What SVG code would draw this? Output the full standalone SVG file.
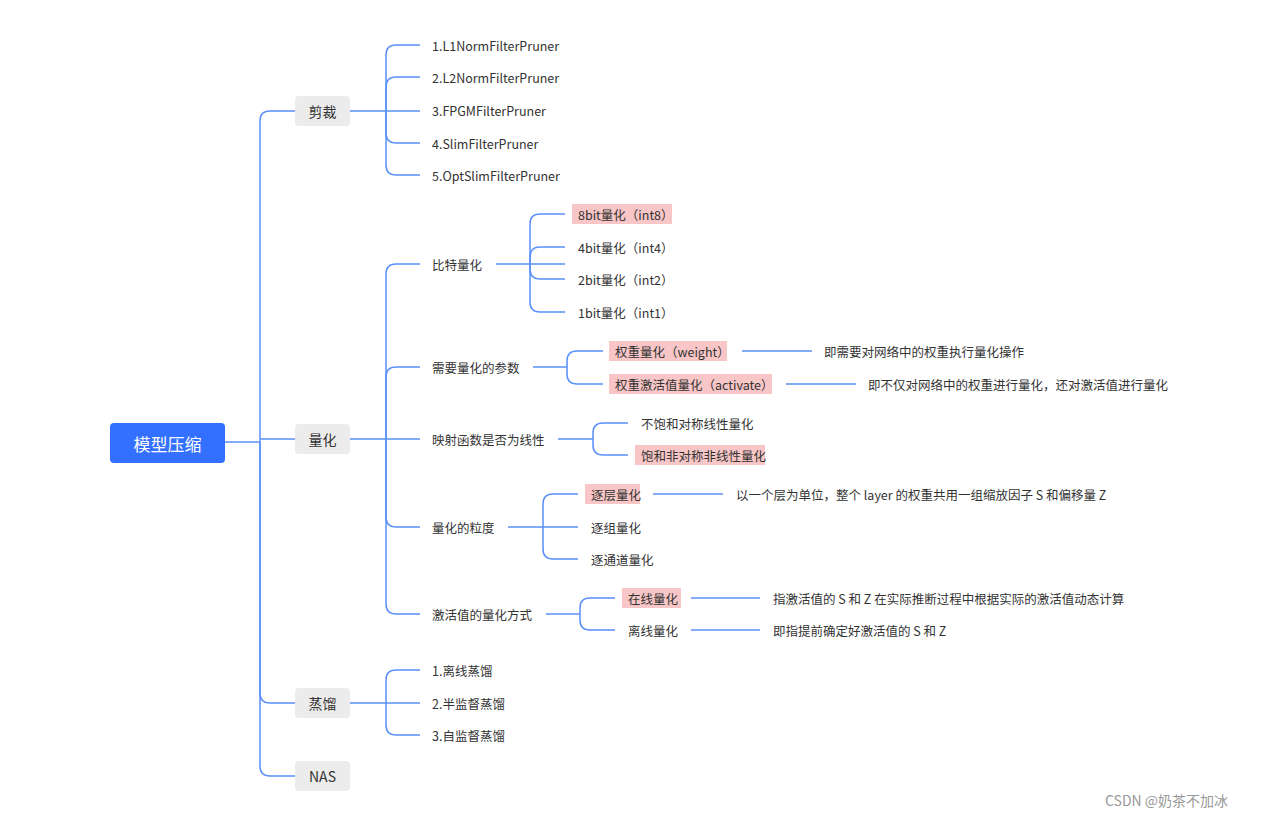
<svg xmlns="http://www.w3.org/2000/svg" width="1280" height="818" viewBox="0 0 1280 818">
<style>
.c{fill:none;stroke:#5b8ff9;stroke-width:1.5}
text{font-family:"Noto Sans CJK SC","Noto Sans",sans-serif;font-size:12.5px;fill:#333;dominant-baseline:central}
.l1{fill:#ececec}
.l1t{font-size:14px;text-anchor:middle}
.hl{fill:#f8c6c6}
</style>
<rect width="1280" height="818" fill="#fff"/>
<g id="connectors">
<path class="c" d="M225 442H260"/>
<path class="c" d="M260 442V121Q260 111 270 111H295"/>
<path class="c" d="M260 439H295"/>
<path class="c" d="M260 442V693Q260 703 270 703H295"/>
<path class="c" d="M260 442V766Q260 776 270 776H295"/>
<path class="c" d="M350 111H420"/>
<path class="c" d="M386 111V55Q386 45 396 45H420"/>
<path class="c" d="M386 111V87Q386 77 396 77H420"/>
<path class="c" d="M386 111V133Q386 143 396 143H420"/>
<path class="c" d="M386 111V165Q386 175 396 175H420"/>
<path class="c" d="M350 439H420"/>
<path class="c" d="M386 439V274Q386 264 396 264H420"/>
<path class="c" d="M386 439V377Q386 367 396 367H420"/>
<path class="c" d="M386 439V517Q386 527 396 527H420"/>
<path class="c" d="M386 439V604Q386 614 396 614H420"/>
<path class="c" d="M496 264H565"/>
<path class="c" d="M530 264V224Q530 214 540 214H565"/>
<path class="c" d="M530 264V257Q530 247 540 247H565"/>
<path class="c" d="M530 264V269Q530 279 540 279H565"/>
<path class="c" d="M530 264V302Q530 312 540 312H565"/>
<path class="c" d="M533 367H567"/>
<path class="c" d="M567 367V361Q567 351 577 351H603"/>
<path class="c" d="M567 367V374Q567 384 577 384H603"/>
<path class="c" d="M742 351H812"/>
<path class="c" d="M786 384H856"/>
<path class="c" d="M558 439H593"/>
<path class="c" d="M593 439V433Q593 423 603 423H628"/>
<path class="c" d="M593 439V445Q593 455 603 455H628"/>
<path class="c" d="M508 527H543"/>
<path class="c" d="M543 527V504Q543 494 553 494H578"/>
<path class="c" d="M543 527H578"/>
<path class="c" d="M543 527V549Q543 559 553 559H578"/>
<path class="c" d="M653 494H723"/>
<path class="c" d="M546 614H580"/>
<path class="c" d="M580 614V608Q580 598 590 598H615"/>
<path class="c" d="M580 614V620Q580 630 590 630H615"/>
<path class="c" d="M691 598H760"/>
<path class="c" d="M691 630H760"/>
<path class="c" d="M350 703H420"/>
<path class="c" d="M386 703V680Q386 670 396 670H420"/>
<path class="c" d="M386 703V725Q386 735 396 735H420"/>
</g>
<g id="root"><rect x="110" y="423" width="115" height="40" rx="4" fill="#3370ff"/><text x="167.5" y="443" style="fill:#fff;font-size:17px;text-anchor:middle">模型压缩</text></g>
<g id="n-jiancai"><rect class="l1" x="295" y="96" width="55" height="30" rx="4"/><text class="l1t" x="322.5" y="111">剪裁</text></g>
<g id="n-lianghua"><rect class="l1" x="295" y="424" width="55" height="30" rx="4"/><text class="l1t" x="322.5" y="439">量化</text></g>
<g id="n-zhengliu"><rect class="l1" x="295" y="688" width="55" height="30" rx="4"/><text class="l1t" x="322.5" y="703">蒸馏</text></g>
<g id="n-nas"><rect class="l1" x="295" y="761" width="55" height="30" rx="4"/><text class="l1t" x="322.5" y="776">NAS</text></g>
<g id="p1"><text x="432" y="45">1.L1NormFilterPruner</text></g>
<g id="p2"><text x="432" y="77">2.L2NormFilterPruner</text></g>
<g id="p3"><text x="432" y="110">3.FPGMFilterPruner</text></g>
<g id="p4"><text x="432" y="143">4.SlimFilterPruner</text></g>
<g id="p5"><text x="432" y="175">5.OptSlimFilterPruner</text></g>
<g id="q1"><text x="432" y="264">比特量化</text></g>
<g id="b8"><rect class="hl" x="572" y="204" width="100" height="20"/><text x="578" y="214">8bit量化（int8）</text></g>
<g id="b4"><text x="578" y="247">4bit量化（int4）</text></g>
<g id="b2"><text x="578" y="279">2bit量化（int2）</text></g>
<g id="b1"><text x="578" y="312">1bit量化（int1）</text></g>
<g id="q2"><text x="432" y="367">需要量化的参数</text></g>
<g id="w"><rect class="hl" x="609" y="341" width="118" height="20"/><text x="615" y="351">权重量化（weight）</text></g>
<g id="a"><rect class="hl" x="609" y="374" width="163" height="20"/><text x="615" y="384">权重激活值量化（activate）</text></g>
<g id="wd"><text x="824" y="351">即需要对网络中的权重执行量化操作</text></g>
<g id="ad"><text x="868" y="384">即不仅对网络中的权重进行量化，还对激活值进行量化</text></g>
<g id="q3"><text x="432" y="439">映射函数是否为线性</text></g>
<g id="m1"><text x="641" y="423">不饱和对称线性量化</text></g>
<g id="m2"><rect class="hl" x="635" y="445" width="130" height="20"/><text x="641" y="455">饱和非对称非线性量化</text></g>
<g id="q4"><text x="432" y="527">量化的粒度</text></g>
<g id="g1"><rect class="hl" x="585" y="484" width="55" height="20"/><text x="591" y="494">逐层量化</text></g>
<g id="g1d"><text x="736" y="494">以一个层为单位，整个 layer 的权重共用一组缩放因子 S 和偏移量 Z</text></g>
<g id="g2"><text x="591" y="527">逐组量化</text></g>
<g id="g3"><text x="591" y="559">逐通道量化</text></g>
<g id="q5"><text x="432" y="614">激活值的量化方式</text></g>
<g id="o1"><rect class="hl" x="622" y="588" width="59" height="20"/><text x="628" y="598">在线量化</text></g>
<g id="o1d"><text x="773" y="598">指激活值的 S 和 Z 在实际推断过程中根据实际的激活值动态计算</text></g>
<g id="o2"><text x="628" y="630">离线量化</text></g>
<g id="o2d"><text x="773" y="630">即指提前确定好激活值的 S 和 Z</text></g>
<g id="d1"><text x="432" y="670">1.离线蒸馏</text></g>
<g id="d2"><text x="432" y="703">2.半监督蒸馏</text></g>
<g id="d3"><text x="432" y="735">3.自监督蒸馏</text></g>
<text x="1105" y="800" style="font-size:14px;fill:#999">CSDN @奶茶不加冰</text>
</svg>
